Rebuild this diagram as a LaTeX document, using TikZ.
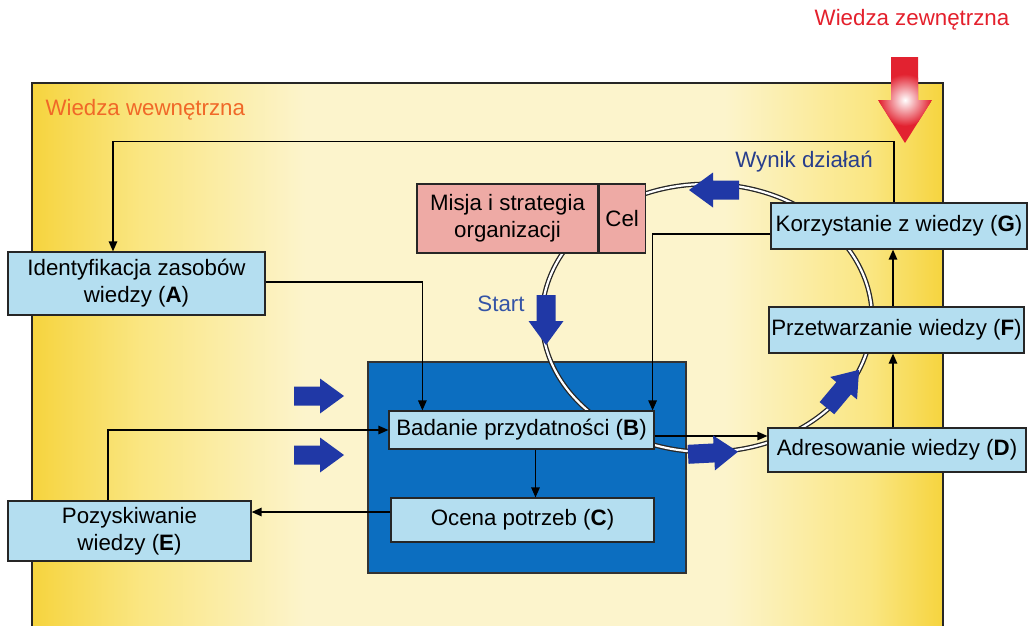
\documentclass[tikz,border=0pt]{standalone}
\usepackage{fontspec}
\setmainfont{Liberation Sans}
\usetikzlibrary{arrows.meta,calc}

\definecolor{ysat}{RGB}{246,212,62}
\definecolor{ymid}{RGB}{250,230,130}
\definecolor{ypale}{RGB}{252,244,204}
\definecolor{boxblue}{RGB}{180,222,240}
\definecolor{deepblue}{RGB}{12,110,192}
\definecolor{arrowblue}{RGB}{32,56,166}
\definecolor{misjapink}{RGB}{238,170,165}
\definecolor{redtext}{RGB}{228,32,44}
\definecolor{orangetext}{RGB}{240,104,40}
\definecolor{navytext}{RGB}{40,62,140}
\definecolor{startblue}{RGB}{52,84,166}
\definecolor{arrowred}{RGB}{226,34,48}

\pgfdeclarehorizontalshading{yellowbg}{100bp}{color(0bp)=(ysat); color(25bp)=(ysat); color(31bp)=(ymid); color(40bp)=(ypale); color(63bp)=(ypale); color(71bp)=(ymid); color(75bp)=(ysat); color(100bp)=(ysat)}

\tikzset{
  txt/.style={font=\fontsize{22.3}{27}\selectfont},
  box/.style={txt, draw=black!85, line width=1.2pt, fill=boxblue, inner sep=1pt, align=center},
  conn/.style={draw=black, line width=1.3pt, -{Triangle[length=10pt,width=8.5pt]}},
  ring/.style={draw=black!85, line width=1.3pt, double=white, double distance=2.2pt},
  bluearrow/.pic={
    \fill[arrowblue] (-25,-9.5) -- (1,-9.5) -- (1,-17.5) -- (25,0) -- (1,17.5) -- (1,9.5) -- (-25,9.5) -- cycle;
  }
}

\begin{document}
\begin{tikzpicture}[x=1pt,y=-1pt]
\useasboundingbox (0,0) rectangle (1029,625);
\fill[white] (0,0) rectangle (1029,625);

% internal knowledge area
\shade[shading=yellowbg] (32,83) rectangle (943,640);
\draw[black!85, line width=1.3pt] (32,640) -- (32,83) -- (943,83) -- (943,640);
\node[txt, text=orangetext, anchor=west] (wew) at (42,110) {Wiedza wewnętrzna};

% external knowledge inflow
\node[txt, text=redtext] (zew) at (912,20) {Wiedza zewnętrzna};
\begin{scope}
  \path[clip] (891,57) -- (918,57) -- (918,100) -- (932,100) -- (905,143) -- (878,100) -- (891,100) -- cycle;
  \fill[arrowred] (870,50) rectangle (940,150);
  \shade[inner color=white, outer color=arrowred] (905,100) circle [radius=26pt];
\end{scope}

% central processing block
\fill[deepblue] (368,362) rectangle (686,573);
\draw[black!80, line width=1.2pt] (368,362) rectangle (686,573);

% knowledge cycle
\draw[ring] (707,318) ellipse [x radius=165pt, y radius=134pt];

% process steps
\node[box, minimum width=257pt, minimum height=63pt] (A) at (136.5,283.5) {Identyfikacja zasobów\\wiedzy (\textbf{A})};
\node[box, minimum width=243pt, minimum height=60pt] (E) at (129.5,531) {Pozyskiwanie\\wiedzy (\textbf{E})};
\node[box, minimum width=265pt, minimum height=38pt] (B) at (521.5,430) {Badanie przydatności (\textbf{B})};
\node[box, minimum width=263pt, minimum height=44pt] (C) at (522.5,520) {Ocena potrzeb (\textbf{C})};
\node[box, minimum width=256pt, minimum height=46pt] (G) at (899,226) {Korzystanie z wiedzy (\textbf{G})};
\node[box, minimum width=255pt, minimum height=46pt] (F) at (896.5,330) {Przetwarzanie wiedzy (\textbf{F})};
\node[box, minimum width=258pt, minimum height=44pt] (D) at (897,450) {Adresowanie wiedzy (\textbf{D})};
\node[box, fill=misjapink, minimum width=181pt, minimum height=69pt] (M) at (507.5,218.5) {Misja i strategia\\organizacji};
\node[box, fill=misjapink, minimum width=46pt, minimum height=69pt, anchor=west] (cel) at (M.east) {Cel};

% connectors
\draw[conn] ([xshift=-5pt]G.north) -- ++(0,-61) -| ([xshift=-23.5pt]A.north);
\draw[conn] ([yshift=1.5pt]A.east) -| ([xshift=34pt]B.north west);
\draw[conn] ([yshift=-8pt]G.west) -| ([xshift=-2pt]B.north east);
\draw[conn] ([xshift=-21.5pt]E.north) |- (B.west);
\draw[conn] ([yshift=8pt]C.west) -- ([yshift=8pt]C.west -| E.east);
\draw[conn] ([xshift=14pt]B.south) -- ([xshift=14pt]B.south |- C.north);
\draw[conn] ([yshift=-6pt]B.east) -- ([yshift=-6pt]B.east -| D.west);
\draw[conn] ([xshift=-4pt]D.north) -- ([xshift=-4pt]D.north |- F.south);
\draw[conn] ([xshift=-3.5pt]F.north) -- ([xshift=-3.5pt]F.north |- G.south);

% flow arrows
\pic at (319,396) {bluearrow};
\pic at (319,455) {bluearrow};
\pic[rotate=-90] at (546,320) {bluearrow};
\pic[rotate=3] at (713,453) {bluearrow};
\pic[rotate=50] at (843,389) {bluearrow};
\pic[rotate=180] at (714,190) {bluearrow};

% labels
\node[txt, text=startblue] (start) at (501,304) {Start};
\node[txt, text=navytext] (wynik) at (804,162) {Wynik działań};
\end{tikzpicture}
\end{document}
